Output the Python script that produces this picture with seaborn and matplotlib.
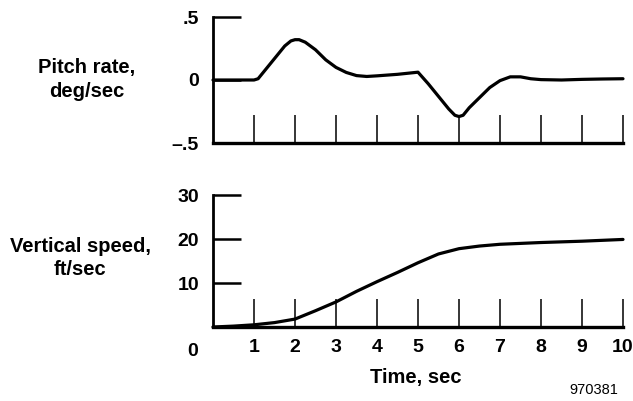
import matplotlib
matplotlib.use("Agg")
import matplotlib.pyplot as plt
import seaborn as sns
import pandas as pd

# ---- data ----
pitch_time = [0, 0.5, 1.0, 1.1, 1.25, 1.5, 1.75, 1.9, 2.0, 2.1, 2.25, 2.5, 2.75, 3.0, 3.25, 3.5,
              3.75, 4.0, 4.5, 5.0, 5.25, 5.5, 5.75, 5.9, 6.0, 6.1, 6.25, 6.5, 6.75, 7.0,
              7.25, 7.5, 7.75, 8.0, 8.5, 9.0, 9.5, 10.0]
pitch_rate = [0, 0, 0, 0.01, 0.07, 0.17, 0.27, 0.31, 0.32, 0.32, 0.30, 0.24, 0.16, 0.10, 0.06, 0.035,
              0.028, 0.033, 0.045, 0.062, -0.03, -0.13, -0.23, -0.28, -0.29, -0.28, -0.22,
              -0.14, -0.06, -0.005, 0.025, 0.025, 0.01, 0.003, 0.0, 0.005, 0.008, 0.01]

speed_time = [0, 0.5, 1, 1.5, 2, 2.5, 3, 3.5, 4, 4.5, 5, 5.5, 6, 6.5, 7, 7.5, 8, 8.5, 9, 9.5, 10]
vert_speed = [0, 0.2, 0.5, 1.0, 1.8, 3.7, 5.7, 8.1, 10.3, 12.4, 14.6, 16.6, 17.8, 18.4,
              18.8, 19.0, 19.2, 19.35, 19.5, 19.7, 19.9]

pitch_yticks = [-0.5, 0, 0.5]
pitch_ylabels = ["\u2013.5", "0", ".5"]
speed_yticks = [10, 20, 30]
speed_ylabels = ["10", "20", "30"]
time_ticks = [1, 2, 3, 4, 5, 6, 7, 8, 9, 10]
time_labels = ["1", "2", "3", "4", "5", "6", "7", "8", "9", "10"]

sns.set_style("white")
plt.rcParams["font.family"] = ["Liberation Sans", "DejaVu Sans"]
plt.rcParams["font.weight"] = "bold"
for k in ("text.color", "axes.labelcolor", "xtick.color", "ytick.color", "axes.edgecolor"):
    plt.rcParams[k] = "black"

W, H = 633, 401
fig = plt.figure(figsize=(W / 100, H / 100), dpi=100)

def frac_rect(x0, x1, ytop, ybot):
    return [x0 / W, 1 - ybot / H, (x1 - x0) / W, (ybot - ytop) / H]

ax1 = fig.add_axes(frac_rect(213, 623, 17, 143))
ax2 = fig.add_axes(frac_rect(213, 623, 195, 327))

df1 = pd.DataFrame({"t": pitch_time, "v": pitch_rate})
df2 = pd.DataFrame({"t": speed_time, "v": vert_speed})
sns.lineplot(data=df1, x="t", y="v", ax=ax1, color="black", linewidth=2.3, clip_on=False)
sns.lineplot(data=df2, x="t", y="v", ax=ax2, color="black", linewidth=2.3, clip_on=False)

for ax in (ax1, ax2):
    ax.set_xlim(0, 10)
    ax.set_xlabel("")
    ax.set_ylabel("")
    ax.patch.set_alpha(0)
    for s in ("top", "right"):
        ax.spines[s].set_visible(False)
    ax.spines["left"].set_linewidth(2.0)
    ax.spines["bottom"].set_linewidth(2.4)
    ax.set_xticks(time_ticks)
    ax.tick_params(axis="x", bottom=True, direction="in", length=20, width=1.1,
                   color="black", pad=9, labelsize=14)
    ax.tick_params(axis="y", left=True, direction="in", length=20, width=1.8,
                   color="black", pad=10, labelsize=14)

ax1.set_ylim(-0.5, 0.5)
ax1.set_yticks(pitch_yticks)
ax1.set_yticklabels(pitch_ylabels, fontweight="bold")
ax1.set_xticklabels([])

ax2.set_ylim(0, 30)
ax2.set_yticks(speed_yticks)
ax2.set_yticklabels(speed_ylabels, fontweight="bold")
ax2.set_xticklabels(time_labels, fontweight="bold")

fig.text((213 - 0.5 * 41) / W, 1 - 351 / H, "0", fontsize=14, fontweight="bold",
         ha="center", va="center")
fig.text(87 / W, 1 - 79.5 / H, "Pitch rate,\ndeg/sec", fontsize=14.5, fontweight="bold",
         ha="center", va="center", linespacing=1.3)
fig.text(80 / W, 1 - 258 / H, "Vertical speed,\nft/sec", fontsize=14.5, fontweight="bold",
         ha="center", va="center", linespacing=1.3)
fig.text(416 / W, 1 - 377 / H, "Time, sec", fontsize=14.5, fontweight="bold",
         ha="center", va="center")
fig.text(594 / W, 1 - 390 / H, "970381", fontsize=10.5, fontweight="normal",
         ha="center", va="center")

fig.savefig("out.png", dpi=100)
